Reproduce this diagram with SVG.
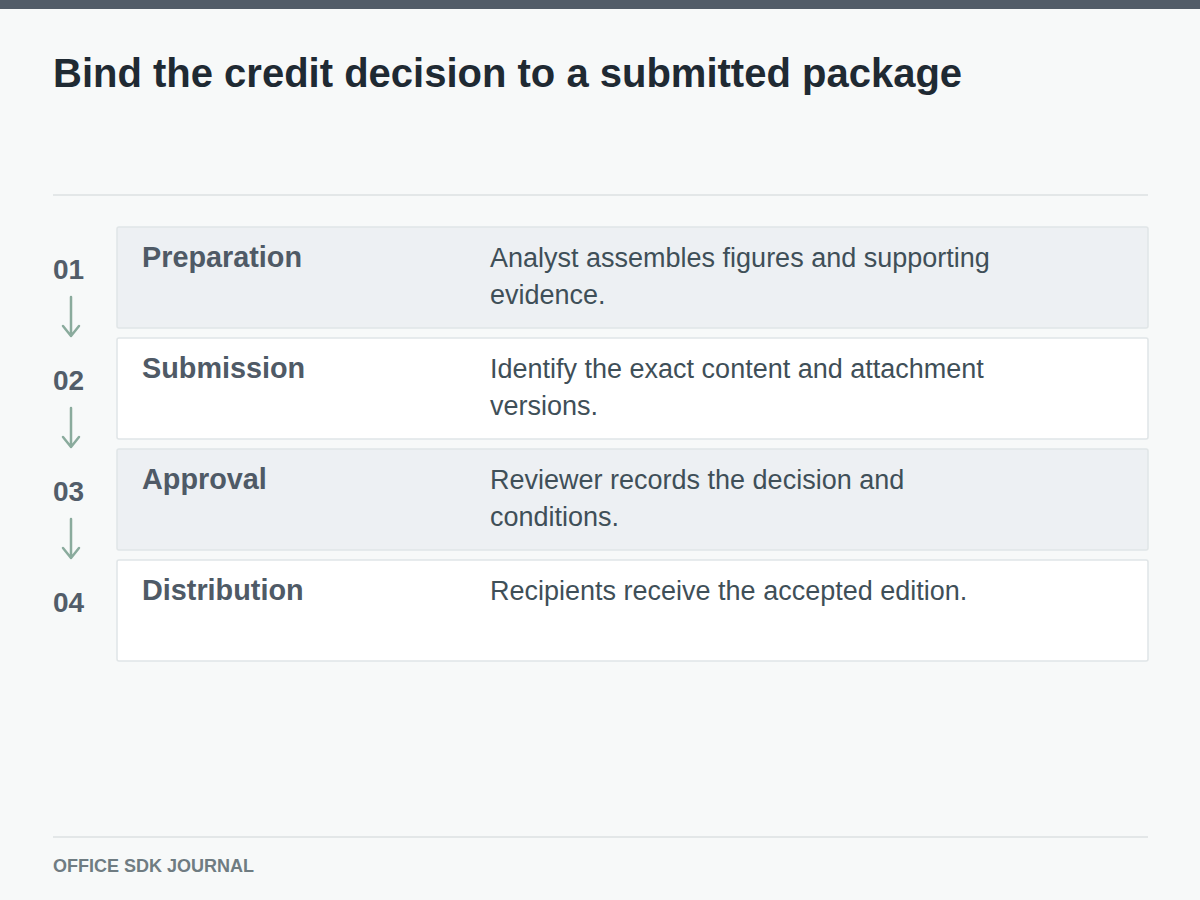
<svg xmlns="http://www.w3.org/2000/svg" width="1200" height="900" viewBox="0 0 1200 900">
<style>
.bg{fill:#f7f9f9}
.title{font-family:"Liberation Sans",Arial,sans-serif;font-weight:bold;font-size:40px;fill:#1f2a33}
.num{font-family:"Liberation Sans",Arial,sans-serif;font-weight:bold;font-size:28px;fill:#525d69}
.name{font-family:"Liberation Sans",Arial,sans-serif;font-weight:bold;font-size:28.8px;fill:#4f5a66}
.desc{font-family:"Liberation Sans",Arial,sans-serif;font-size:27px;fill:#3f4f58}
.foot{font-family:"Liberation Sans",Arial,sans-serif;font-weight:bold;font-size:18px;fill:#6f7c82}
.rowA{fill:#edf0f3;stroke:#e0e5e7;stroke-width:1.5}
.rowB{fill:#ffffff;stroke:#e0e5e7;stroke-width:1.5}
.rule{stroke:#e3e7e8;stroke-width:2}
.arr{stroke:#8aab9d;stroke-width:2.5;fill:none;stroke-linecap:round;stroke-linejoin:round}
</style>
<rect class="bg" x="0" y="0" width="1200" height="900"/>
<rect x="0" y="0" width="1200" height="9" fill="#525c68"/>
<text class="title" x="53" y="87">Bind the credit decision to a submitted package</text>
<line class="rule" x1="53" y1="195" x2="1148" y2="195"/>

<g id="step1">
<rect class="rowA" x="117" y="227" width="1031" height="101" rx="2"/>
<text class="num" x="53" y="279">01</text>
<text class="name" x="142" y="267">Preparation</text>
<text class="desc" x="490" y="266.5">Analyst assembles figures and supporting</text>
<text class="desc" x="490" y="304">evidence.</text>
</g>
<g id="step2">
<rect class="rowB" x="117" y="338" width="1031" height="101" rx="2"/>
<text class="num" x="53" y="390">02</text>
<text class="name" x="142" y="378">Submission</text>
<text class="desc" x="490" y="377.5">Identify the exact content and attachment</text>
<text class="desc" x="490" y="415">versions.</text>
</g>
<g id="step3">
<rect class="rowA" x="117" y="449" width="1031" height="101" rx="2"/>
<text class="num" x="53" y="501">03</text>
<text class="name" x="142" y="489">Approval</text>
<text class="desc" x="490" y="488.5">Reviewer records the decision and</text>
<text class="desc" x="490" y="526">conditions.</text>
</g>
<g id="step4">
<rect class="rowB" x="117" y="560" width="1031" height="101" rx="2"/>
<text class="num" x="53" y="612">04</text>
<text class="name" x="142" y="600">Distribution</text>
<text class="desc" x="490" y="599.5">Recipients receive the accepted edition.</text>
</g>

<g id="connectors">
<path class="arr" d="M71 297 V336 M63 326 L71 336 L79 326"/>
<path class="arr" d="M71 408 V447 M63 437 L71 447 L79 437"/>
<path class="arr" d="M71 519 V558 M63 548 L71 558 L79 548"/>
</g>

<line class="rule" x1="53" y1="837" x2="1148" y2="837"/>
<text class="foot" x="53" y="872">OFFICE SDK JOURNAL</text>
</svg>
